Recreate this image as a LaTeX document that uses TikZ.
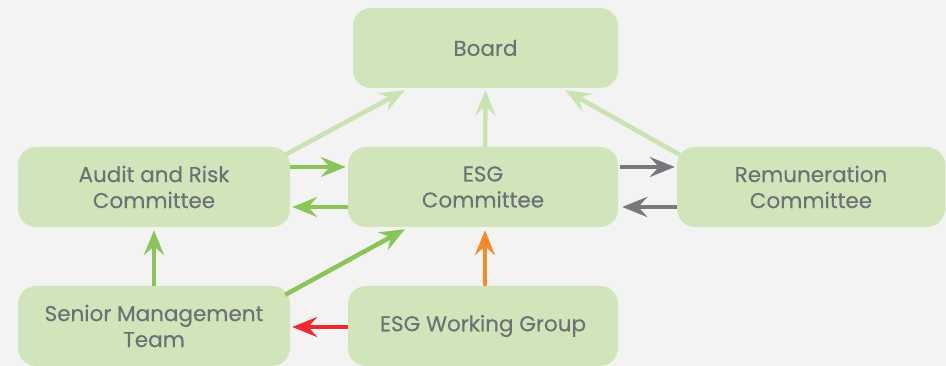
\documentclass[tikz,border=0pt]{standalone}
\usepackage{fontspec}
\setmainfont{Poppins}[FakeBold=0.3]
\usetikzlibrary{arrows.meta}
\definecolor{bg}{HTML}{F2F3F2}
\definecolor{boxfill}{HTML}{D0E6BA}
\definecolor{txt}{HTML}{6D7075}
\definecolor{lgreen}{HTML}{C9E3B1}
\definecolor{dgreen}{HTML}{8AC657}
\definecolor{gray1}{HTML}{76787B}
\definecolor{orange1}{HTML}{F48B28}
\definecolor{red1}{HTML}{EE2A30}
\begin{document}
\begin{tikzpicture}[x=1pt,y=-1pt,
  box/.style={fill=boxfill, rounded corners=18pt, minimum height=80pt, inner sep=0pt,
    text=txt, font=\fontsize{21.5}{26}\selectfont, align=center},
  conn/.style={line width=4.5pt, -{Stealth[length=25pt,width=20pt,inset=9pt]}},
  lg/.style={conn, draw=lgreen},
  dg/.style={conn, draw=dgreen},
  gy/.style={conn, draw=gray1},
  og/.style={conn, draw=orange1},
  rd/.style={conn, draw=red1}]
\fill[bg] (0,0) rectangle (946,366);
\useasboundingbox (0,0) rectangle (946,366);
\node[box, minimum width=265pt] (board) at (485.5,48) {Board};
\node[box, minimum width=272pt] (audit) at (154,187) {Audit and Risk\\Committee};
\node[box, minimum width=270pt] (esg) at (483,187) {ESG\\Committee};
\node[box, minimum width=268pt] (rem) at (811,187) {Remuneration\\Committee};
\node[box, minimum width=272pt] (smt) at (154,326) {Senior Management\\Team};
\node[box, minimum width=270pt] (wg) at (483,326) {\raisebox{-2pt}{ESG Working Group}};
% to board
\draw[lg] ([xshift=-5pt,yshift=-8pt]audit.north east) -- ([xshift=52pt,yshift=-2pt]board.south west);
\draw[lg] ([xshift=2pt]esg.north) -- ([yshift=-2pt]board.south);
\draw[lg] ([xshift=3pt,yshift=-8pt]rem.north west) -- ([xshift=-53pt,yshift=-2pt]board.south east);
% audit <-> esg
\draw[dg] ([yshift=20pt]audit.east) -- ([xshift=-2pt,yshift=20pt]esg.west);
\draw[dg] ([yshift=-20pt]esg.west) -- ([xshift=2pt,yshift=-20pt]audit.east);
% esg <-> rem
\draw[gy] ([xshift=2pt,yshift=20pt]esg.east) -- ([xshift=-2pt,yshift=20pt]rem.west);
\draw[gy] ([yshift=-20pt]rem.west) -- ([xshift=4pt,yshift=-20pt]esg.east);
% senior -> audit, esg
\draw[dg] (smt.north) -- ([yshift=-3pt]audit.south);
\draw[dg] ([xshift=-5pt,yshift=-9pt]smt.north east) -- ([xshift=-78pt,yshift=-2pt]esg.south);
% wg -> esg, senior
\draw[og] ([xshift=2pt]wg.north) -- ([xshift=2pt,yshift=-3pt]esg.south);
\draw[rd] ([yshift=-1pt]wg.west) -- ([xshift=2pt,yshift=-1pt]smt.east);
\end{tikzpicture}
\end{document}
